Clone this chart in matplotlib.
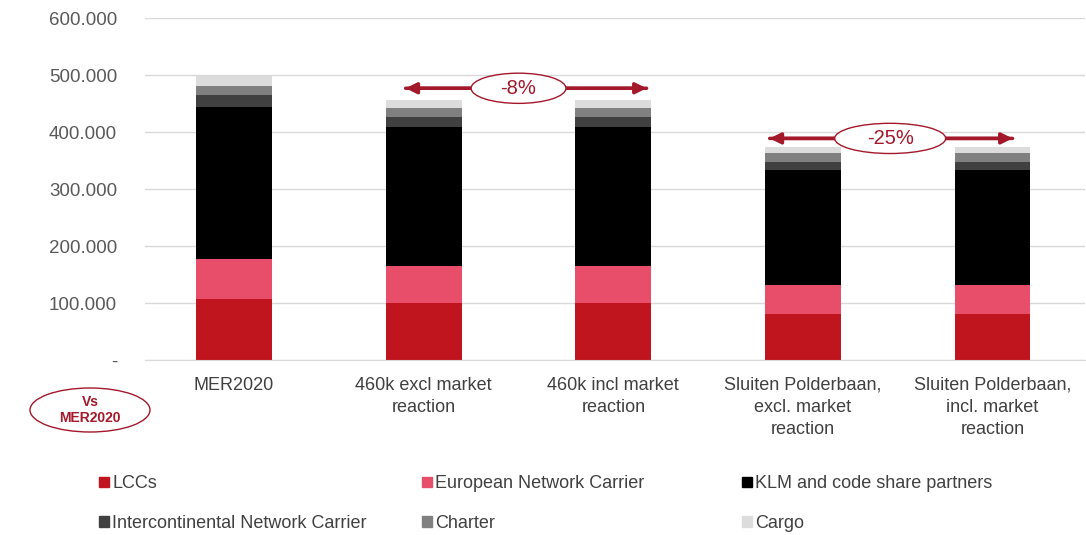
import matplotlib.pyplot as plt
import numpy as np
from matplotlib.ticker import FuncFormatter
from matplotlib.patches import Patch, Ellipse

plt.rcParams['font.family'] = ['Liberation Sans', 'DejaVu Sans']

categories = ['MER2020', '460k excl market\nreaction', '460k incl market\nreaction',
              'Sluiten Polderbaan,\nexcl. market\nreaction', 'Sluiten Polderbaan,\nincl. market\nreaction']
series_names = ['LCCs', 'European Network Carrier', 'KLM and code share partners',
                'Intercontinental Network Carrier', 'Charter', 'Cargo']
lccs = [108000, 100000, 100000, 81000, 81000]
european = [70000, 65000, 65000, 51000, 51000]
klm = [266000, 244000, 244000, 201000, 201000]
intercont = [21000, 17000, 17000, 14000, 14000]
charter = [16000, 16000, 16000, 16000, 16000]
cargo = [17000, 14000, 14000, 11000, 11000]
colors = ['#c0141e', '#e84d6a', '#000000', '#404040', '#808080', '#dcdcdc']

fig = plt.figure(figsize=(10.86, 5.35), dpi=100)
ax = fig.add_axes([0.1335, 0.327, 0.866, 0.639])

x = np.arange(len(categories))
bottom = np.zeros(len(categories))
for vals, c in zip([lccs, european, klm, intercont, charter, cargo], colors):
    ax.bar(x, vals, width=0.4, bottom=bottom, color=c, zorder=2)
    bottom += np.array(vals)

ax.set_xlim(-0.47, 4.49)
ax.set_ylim(0, 600000)
ax.set_yticks(np.arange(0, 600001, 100000))
ax.yaxis.set_major_formatter(FuncFormatter(
    lambda v, p: '-' if v == 0 else f'{int(v):,}'.replace(',', '.')))
ax.set_xticks(x)
ax.set_xticklabels(categories, fontsize=13, color='#404040', linespacing=1.4)
ax.tick_params(axis='y', length=0, pad=20, labelsize=13.5, labelcolor='#595959')
ax.tick_params(axis='x', length=0, pad=12)
ax.grid(axis='y', color='#d9d9d9', linewidth=1, zorder=0)
for s in ['top', 'right', 'left']:
    ax.spines[s].set_visible(False)
ax.spines['bottom'].set_color('#d9d9d9')

red = '#a3182a'


def pct_arrow(x0, x1, xc, y, label, w):
    ax.annotate('', xy=(x0, y), xytext=(x1, y),
                arrowprops=dict(arrowstyle='-|>', color=red, lw=2.5, mutation_scale=16), zorder=3)
    ax.annotate('', xy=(x1, y), xytext=(x0, y),
                arrowprops=dict(arrowstyle='-|>', color=red, lw=2.5, mutation_scale=16), zorder=3)
    ax.add_patch(Ellipse((xc, y), w, 53000, fc='white', ec=red, lw=1, zorder=4))
    ax.text(xc, y, label, ha='center', va='center', fontsize=14.5, color=red, zorder=5)


pct_arrow(0.89, 2.19, 1.5, 477000, '-8%', 0.5)
pct_arrow(2.81, 4.12, 3.46, 389000, '-25%', 0.585)

fig.patches.append(Ellipse((90 / 1086, 1 - 410 / 535), 120 / 1086, 44 / 535,
                           transform=fig.transFigure, fc='none', ec=red, lw=1))
fig.text(90 / 1086, 1 - 410 / 535, 'Vs\nMER2020', ha='center', va='center', fontsize=10,
         fontweight='bold', color=red, linespacing=1.25)

handles = [Patch(color=c) for c in colors]
col_x = [86 / 1086, 409 / 1086, 729 / 1086]
for j in range(3):
    idx = [j, j + 3]
    fig.legend([handles[i] for i in idx], [series_names[i] for i in idx],
               loc='upper left', bbox_to_anchor=(col_x[j], 0.135), ncol=1, frameon=False,
               fontsize=13, handlelength=0.55, handleheight=0.55, handletextpad=0.2,
               labelspacing=1.25, labelcolor='#404040', borderpad=0.2)

fig.savefig('out.png', dpi=100)
